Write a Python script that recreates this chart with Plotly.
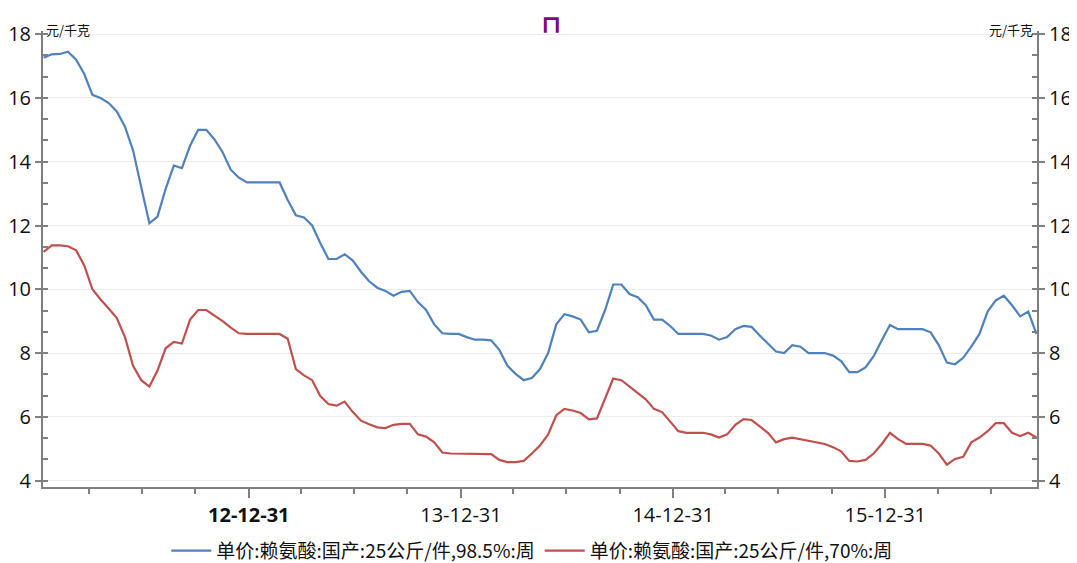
import pandas as pd
import plotly.graph_objects as go

# biweekly observation dates
dates = pd.date_range("2012-01-13", periods=123, freq="14D")

lysine_985 = [
    17.26, 17.37, 17.38, 17.45, 17.2, 16.75, 16.1, 16.0, 15.84, 15.58,
    15.1, 14.35, 13.2, 12.07, 12.28, 13.15, 13.88, 13.8, 14.5, 15.0,
    15.0, 14.7, 14.3, 13.75, 13.5, 13.35, 13.35, 13.35, 13.35, 13.35,
    12.8, 12.32, 12.25, 12.0, 11.45, 10.95, 10.95, 11.1, 10.9, 10.55,
    10.25, 10.05, 9.95, 9.8, 9.92, 9.95, 9.6, 9.35, 8.9, 8.62,
    8.6, 8.6, 8.5, 8.42, 8.42, 8.4, 8.1, 7.6, 7.35, 7.15,
    7.22, 7.5, 8.0, 8.9, 9.22, 9.15, 9.05, 8.65, 8.7, 9.35,
    10.15, 10.15, 9.85, 9.75, 9.5, 9.05, 9.05, 8.85, 8.6, 8.6,
    8.6, 8.6, 8.55, 8.42, 8.5, 8.75, 8.85, 8.82, 8.55, 8.3,
    8.05, 8.0, 8.25, 8.2, 8.0, 8.0, 8.0, 7.92, 7.75, 7.4,
    7.4, 7.55, 7.9, 8.4, 8.88, 8.75, 8.75, 8.75, 8.75, 8.65,
    8.25, 7.7, 7.65, 7.85, 8.2, 8.6, 9.3, 9.65, 9.8, 9.5,
    9.15, 9.3, 8.6,
]

lysine_70 = [
    11.17, 11.38, 11.38, 11.35, 11.22, 10.75, 10.0, 9.68, 9.4, 9.1,
    8.5, 7.6, 7.15, 6.95, 7.45, 8.15, 8.35, 8.3, 9.05, 9.35,
    9.35, 9.18, 9.0, 8.8, 8.62, 8.6, 8.6, 8.6, 8.6, 8.6,
    8.45, 7.5, 7.3, 7.15, 6.65, 6.4, 6.35, 6.48, 6.15, 5.88,
    5.77, 5.67, 5.65, 5.75, 5.78, 5.78, 5.45, 5.38, 5.2, 4.88,
    4.85, 4.85, 4.85, 4.85, 4.85, 4.83, 4.65, 4.58, 4.58, 4.62,
    4.85, 5.1, 5.45, 6.05, 6.25, 6.2, 6.12, 5.92, 5.95, 6.6,
    7.2, 7.15, 6.95, 6.75, 6.55, 6.25, 6.15, 5.85, 5.55, 5.5,
    5.5, 5.5, 5.45, 5.35, 5.45, 5.75, 5.93, 5.9, 5.7, 5.5,
    5.2, 5.3, 5.35, 5.3, 5.23, 5.2, 5.15, 5.05, 4.92, 4.62,
    4.6, 4.65, 4.85, 5.15, 5.5, 5.3, 5.15, 5.15, 5.15, 5.1,
    4.85, 4.5, 4.68, 4.75, 5.2, 5.35, 5.55, 5.8, 5.8, 5.5,
    5.4, 5.5, 5.35,
]

series_names = ["单价:赖氨酸:国产:25公斤/件,98.5%:周", "单价:赖氨酸:国产:25公斤/件,70%:周"]
major_x = ["2012-12-31", "2013-12-31", "2014-12-31", "2015-12-31"]
major_x_text = ["<b>12-12-31</b>", "13-12-31", "14-12-31", "15-12-31"]
minor_x = ["2012-03-31", "2012-06-30", "2012-09-30",
           "2013-03-31", "2013-06-30", "2013-09-30",
           "2014-03-31", "2014-06-30", "2014-09-30",
           "2015-03-31", "2015-06-30", "2015-09-30",
           "2016-03-31", "2016-06-30"]
y_ticks = [4, 6, 8, 10, 12, 14, 16, 18]
unit = "元/千克"

font_fam = "Open Sans, Noto Sans CJK SC, sans-serif"
cjk_fam = "Noto Sans CJK SC, sans-serif"
axis_color = "#7f7f7f"

fig = go.Figure()
fig.add_trace(go.Scatter(x=dates, y=lysine_985, mode="lines", name=series_names[0],
                         line=dict(color="#4F81BD", width=2.2)))
fig.add_trace(go.Scatter(x=dates, y=lysine_70, mode="lines", name=series_names[1],
                         line=dict(color="#C0504D", width=2.2)))
# invisible trace on right axis
fig.add_trace(go.Scatter(x=[dates[0]], y=[lysine_985[0]], yaxis="y2", mode="lines",
                         showlegend=False, hoverinfo="skip", line=dict(width=0)))

yrange = [3.8, 18.1]
common_y = dict(range=yrange, tickvals=y_ticks, ticks="outside", ticklen=6, tickwidth=2,
                tickcolor=axis_color, showline=True, linecolor=axis_color, linewidth=2,
                tickfont=dict(size=20, color="#111", family=font_fam),
                minor=dict(dtick=2/3, tick0=4, ticks="inside", ticklen=5, tickwidth=2,
                           tickcolor=axis_color, showgrid=False),
                zeroline=False, fixedrange=True, automargin=False)

fig.update_layout(
    width=1069, height=555,
    margin=dict(l=35, r=40, t=23, b=76, autoexpand=False),
    paper_bgcolor="white", plot_bgcolor="white",
    font=dict(family=font_fam, color="#111"),
    showlegend=True,
    legend=dict(orientation="h", x=0.49, xanchor="center", xref="container",
                y=0.022, yanchor="middle", yref="container",
                font=dict(size=19, family=cjk_fam),
                itemwidth=40, tracegroupgap=0),
    xaxis=dict(type="date", range=["2012-01-12", "2016-09-17"], automargin=False,
               tickvals=major_x, ticktext=major_x_text, ticks="outside", ticklen=9,
               tickwidth=2, tickcolor=axis_color, showline=True, linecolor=axis_color,
               linewidth=2, showgrid=False, zeroline=False,
               tickfont=dict(size=20, color="#111", family=font_fam),
               minor=dict(tickvals=minor_x, ticks="outside", ticklen=5, tickwidth=2,
                          tickcolor=axis_color, showgrid=False)),
    yaxis=dict(**common_y, side="left", showgrid=True, gridcolor="#ececec", gridwidth=1),
    yaxis2=dict(**common_y, side="right", overlaying="y", showgrid=False),
)

fig.add_annotation(text=unit, xref="paper", yref="paper", x=0.001, y=1.0, xanchor="left",
                   yanchor="bottom", yshift=-10, showarrow=False,
                   font=dict(size=13, color="#111", family=cjk_fam))
fig.add_annotation(text=unit, xref="paper", yref="paper", x=0.998, y=1.0, xanchor="right",
                   yanchor="bottom", yshift=-10, showarrow=False,
                   font=dict(size=13, color="#111", family=cjk_fam))
fig.add_annotation(text="<b>⊓</b>", xref="paper", yref="paper", x=0.511, y=1.0504,
                   xanchor="center", yanchor="top", showarrow=False,
                   font=dict(size=25, color="#800080", family="DejaVu Sans"))

fig.write_html("out.html")
